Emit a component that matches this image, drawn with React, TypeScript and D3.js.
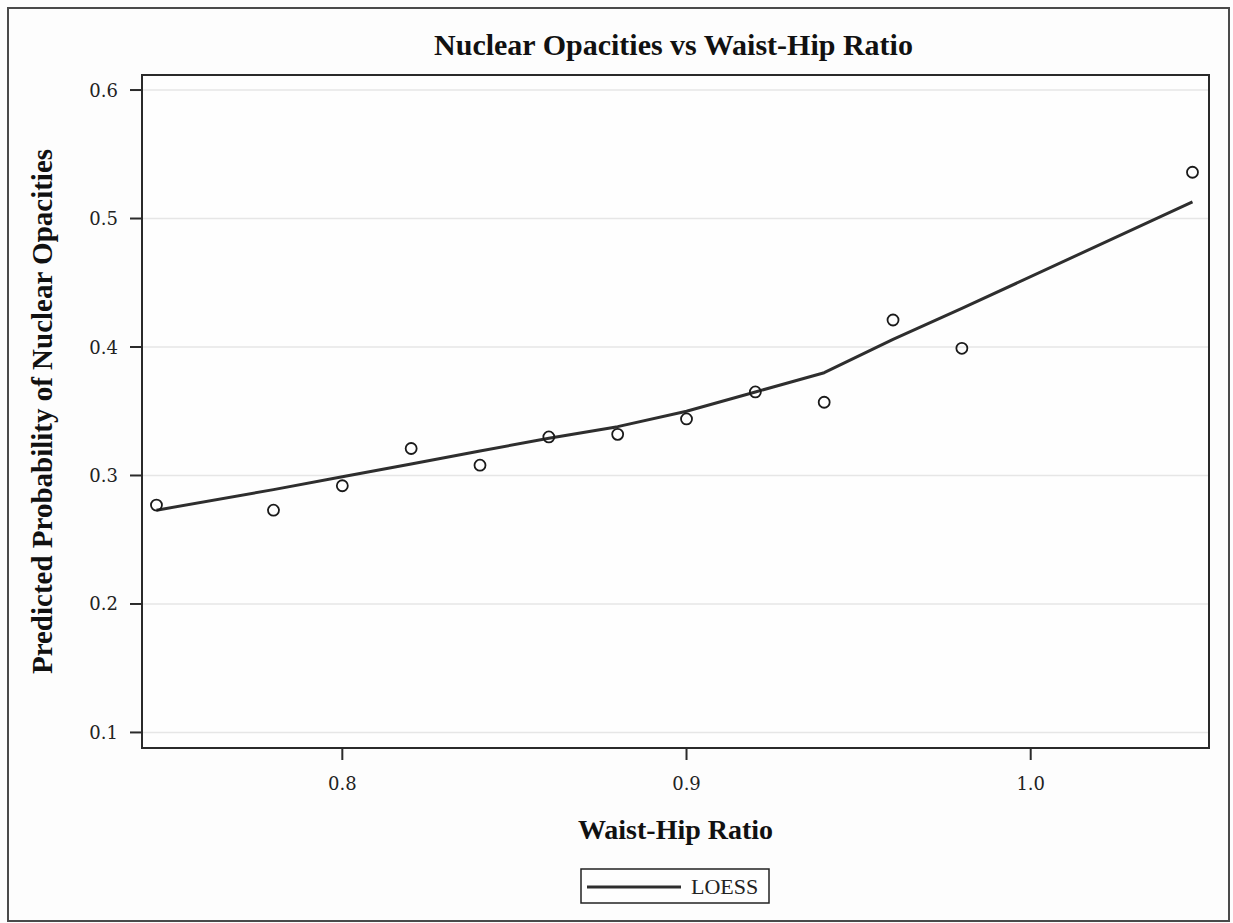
import React from "react";
import * as d3 from "d3";

const ratioX: number[] = [0.746, 0.78, 0.8, 0.82, 0.84, 0.86, 0.88, 0.9, 0.92, 0.94, 0.96, 0.98, 1.047];
const observedProb: number[] = [0.277, 0.273, 0.292, 0.321, 0.308, 0.330, 0.332, 0.344, 0.365, 0.357, 0.421, 0.399, 0.536];
const loessProb: number[] = [0.273, 0.289, 0.299, 0.309, 0.319, 0.329, 0.338, 0.350, 0.365, 0.380, 0.406, 0.430, 0.513];
const yTicks: number[] = [0.1, 0.2, 0.3, 0.4, 0.5, 0.6];
const xTicks: number[] = [0.8, 0.9, 1.0];

const W = 1233;
const H = 923;
const plot = { left: 142, top: 75, right: 1209, bottom: 748 };

export default function App() {
  const x = d3.scaleLinear().domain([0.7418, 1.0518]).range([plot.left, plot.right]);
  const y = d3.scaleLinear().domain([0.0879, 0.6117]).range([plot.bottom, plot.top]);
  const pts = ratioX.map((v, i) => ({ x: v, obs: observedProb[i], fit: loessProb[i] }));
  const line = d3
    .line<{ x: number; fit: number }>()
    .x((d) => x(d.x))
    .y((d) => y(d.fit));
  const serif = "'Liberation Serif', 'Times New Roman', serif";
  const tickFont = "'DejaVu Serif', serif";
  const cx = (plot.left + plot.right) / 2;
  const cy = (plot.top + plot.bottom) / 2;
  return (
    <svg
      width={W}
      height={H}
      style={{ position: "absolute", left: 0, top: 0, display: "block", background: "#fdfdfd" }}
    >
      <rect x={0} y={0} width={W} height={H} fill="#fdfdfd" />
      <rect x={8} y={8} width={1221} height={913} fill="none" stroke="#4a4a4a" strokeWidth={2} />
      <text
        x={cx - 2}
        y={55}
        textAnchor="middle"
        fontFamily={serif}
        fontWeight="bold"
        fontSize={30}
        fill="#111"
      >
        Nuclear Opacities vs Waist-Hip Ratio
      </text>
      <rect x={plot.left} y={plot.top} width={plot.right - plot.left} height={plot.bottom - plot.top} fill="#fefefe" />
      {yTicks.map((t) => (
        <line key={"g" + t} x1={plot.left + 1} x2={plot.right - 1} y1={y(t)} y2={y(t)} stroke="#e6e6e6" strokeWidth={1.5} />
      ))}
      <path d={line(pts) || ""} fill="none" stroke="#2e2e2e" strokeWidth={3} strokeLinejoin="round" />
      {pts.map((p, i) => (
        <circle key={"c" + i} cx={x(p.x)} cy={y(p.obs)} r={5.5} fill="none" stroke="#1a1a1a" strokeWidth={1.8} />
      ))}
      <rect
        x={plot.left}
        y={plot.top}
        width={plot.right - plot.left}
        height={plot.bottom - plot.top}
        fill="none"
        stroke="#2a2a2a"
        strokeWidth={2}
      />
      {yTicks.map((t) => (
        <g key={"yt" + t}>
          <line x1={plot.left - 12} x2={plot.left} y1={y(t)} y2={y(t)} stroke="#2a2a2a" strokeWidth={2} />
          <text x={plot.left - 24} y={y(t) + 6.5} textAnchor="end" fontFamily={tickFont} fontSize={18} fill="#222">
            {d3.format(".1f")(t)}
          </text>
        </g>
      ))}
      {xTicks.map((t) => (
        <g key={"xt" + t}>
          <line x1={x(t)} x2={x(t)} y1={plot.bottom} y2={plot.bottom + 12} stroke="#2a2a2a" strokeWidth={2} />
          <text x={x(t)} y={790} textAnchor="middle" fontFamily={tickFont} fontSize={18} fill="#222">
            {d3.format(".1f")(t)}
          </text>
        </g>
      ))}
      <text x={cx} y={839} textAnchor="middle" fontFamily={serif} fontWeight="bold" fontSize={28} fill="#111">
        Waist-Hip Ratio
      </text>
      <text
        transform={`translate(52,${cy}) rotate(-90)`}
        textAnchor="middle"
        fontFamily={serif}
        fontWeight="bold"
        fontSize={29}
        fill="#111"
      >
        Predicted Probability of Nuclear Opacities
      </text>
      <rect x={581} y={869} width={188} height={34} fill="#fefefe" stroke="#222" strokeWidth={1.5} />
      <line x1={587} x2={681} y1={887} y2={887} stroke="#2e2e2e" strokeWidth={3} />
      <text x={691} y={894} fontFamily={serif} fontSize={22} fill="#222">
        LOESS
      </text>
    </svg>
  );
}
